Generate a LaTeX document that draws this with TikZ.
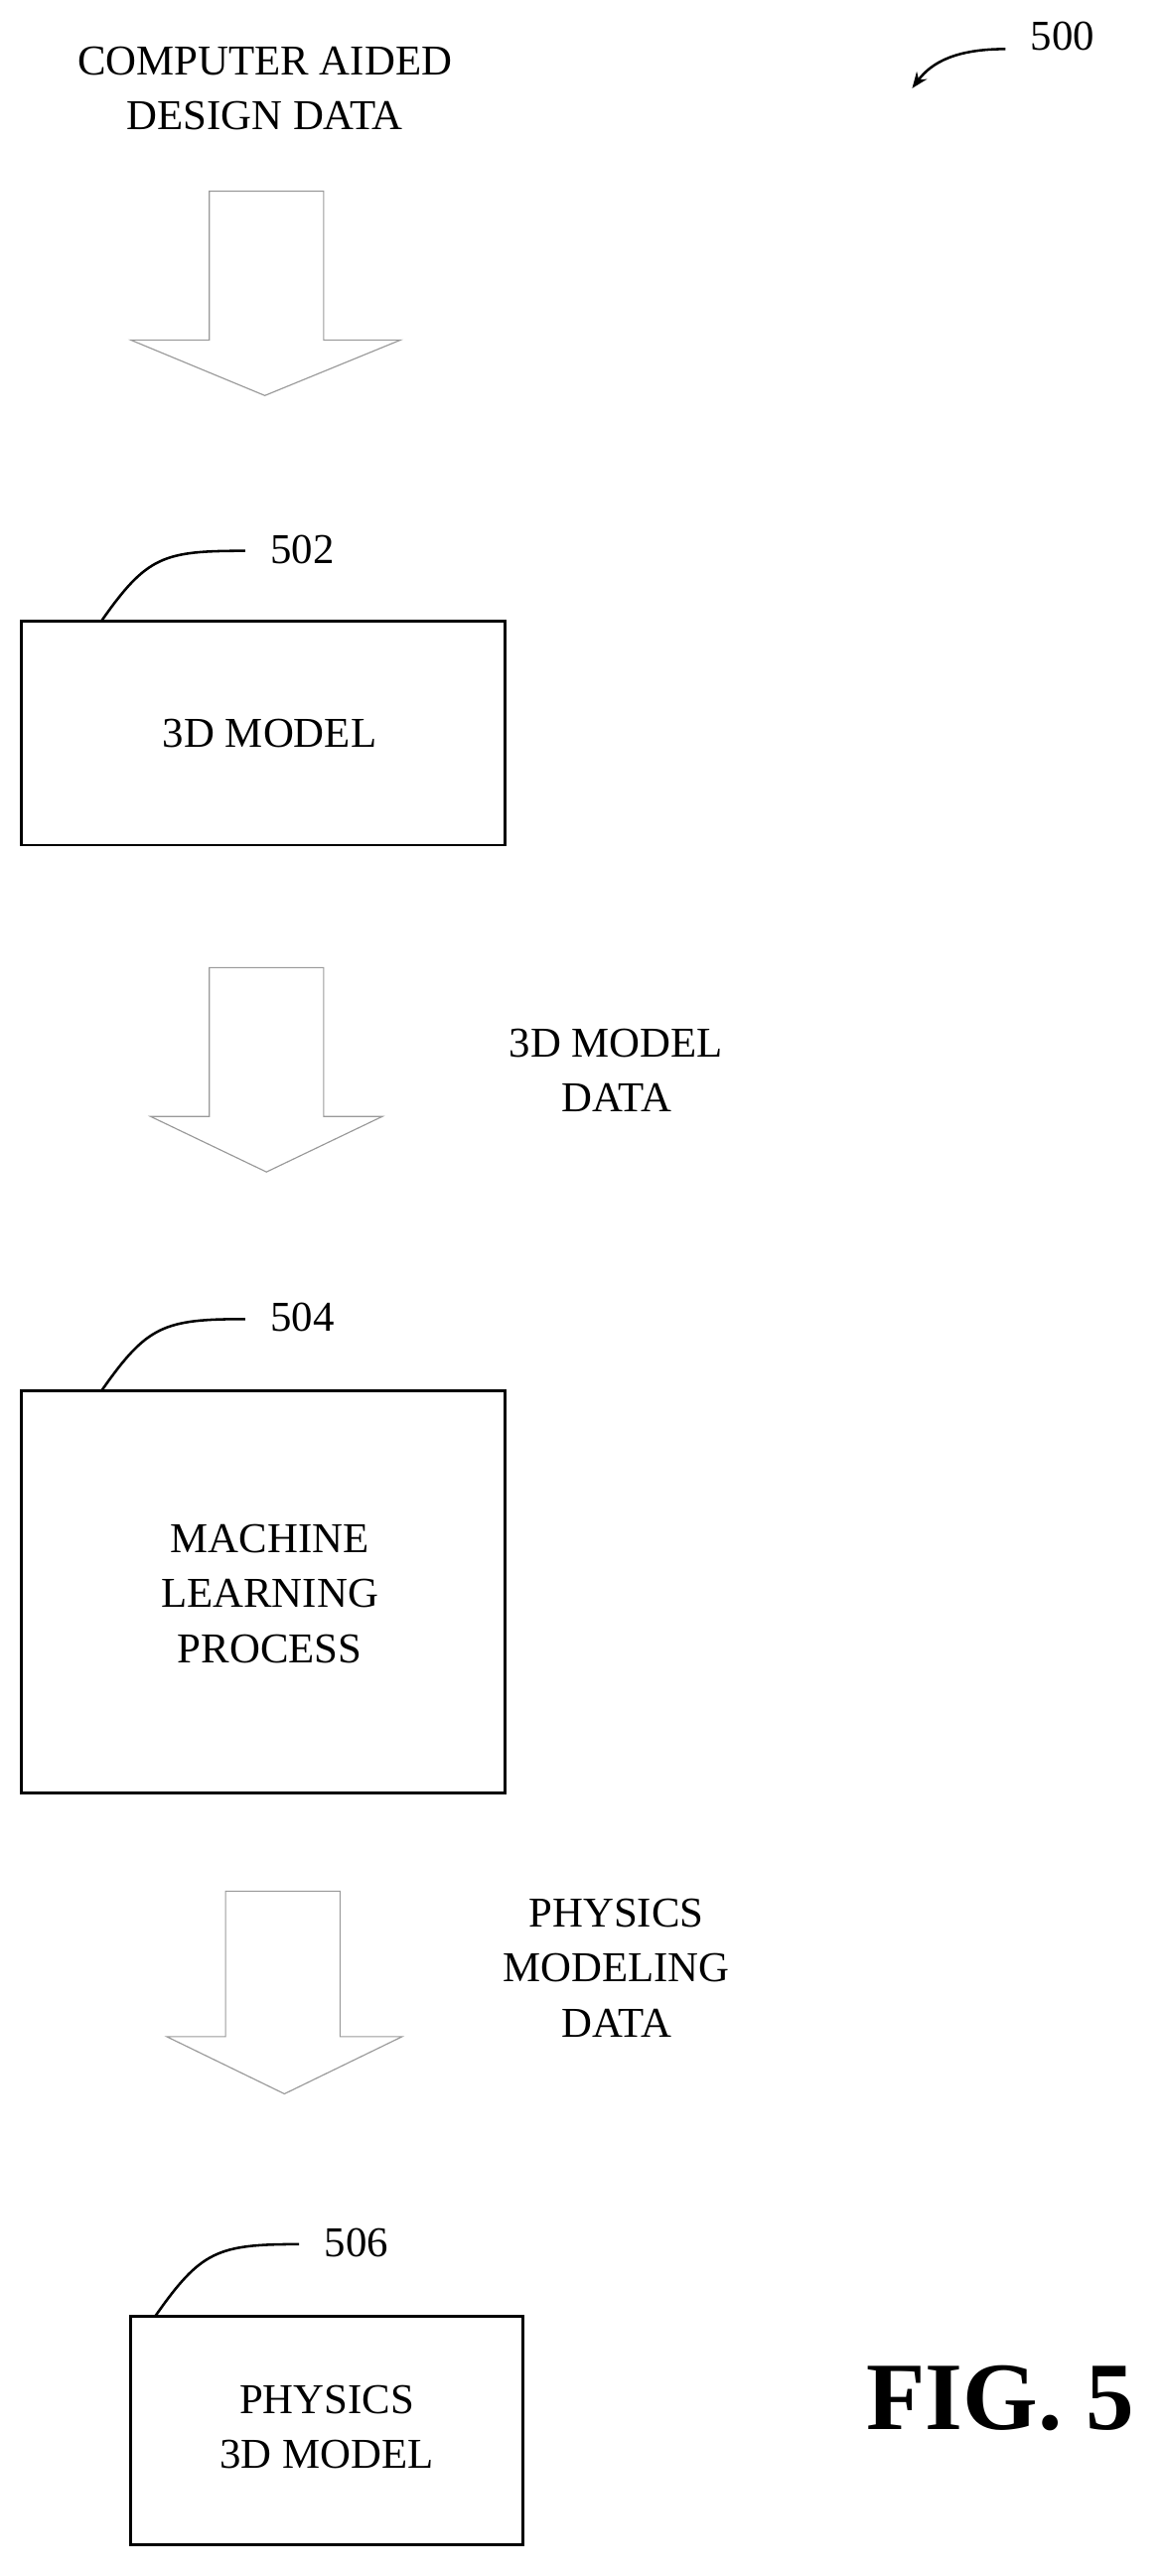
\documentclass[tikz,border=0pt]{standalone}
\usepackage{fontspec}
\setmainfont{Liberation Serif}
\usetikzlibrary{arrows.meta}
\begin{document}
\begin{tikzpicture}[x=0.05cm,y=-0.05cm,
  txt/.style={font=\fontsize{37}{44}\selectfont,align=center,inner sep=0},
  box/.style={draw=black,line width=2.2pt},
  barrow/.style={draw=gray!80,line width=1pt},
  lead/.style={draw=black,line width=2.2pt}]
\useasboundingbox (0,0) rectangle (712,1576);
\node[txt] (cad) at (162,54) {COMPUTER AIDED\\[4pt]DESIGN DATA};
\draw[barrow] (128,117) -- (198,117) -- (198,208) -- (245,208) -- (162,242) -- (80,208) -- (128,208) -- cycle;
\node[txt] (l500) at (650,22) {500};
\coordinate (a500) at (558,54);
\draw[lead,-{Stealth[length=14pt,width=11pt]}] (615,30) .. controls (585,30) and (570,38) .. (a500);
% 502
\draw[box] (13,380) rectangle (309,517);
\node[txt] (t502) at (165,449) {3D MODEL};
\node[txt] (l502) at (185,336) {502};
\draw[lead] (62,380) .. controls (90,340) and (100,337) .. (150,337);
\draw[barrow] (128,592) -- (198,592) -- (198,683) -- (234,683) -- (163,717) -- (92,683) -- (128,683) -- cycle;
\node[txt] (d1) at (377,655) {3D MODEL\\[4pt]DATA};
% 504
\draw[box] (13,851) rectangle (309,1097);
\node[txt] (t504) at (165,975) {MACHINE\\[4pt]LEARNING\\[4pt]PROCESS};
\node[txt] (l504) at (185,806) {504};
\draw[lead] (62,851) .. controls (90,811) and (100,807) .. (150,807);
\draw[barrow] (138,1157) -- (208,1157) -- (208,1246) -- (246,1246) -- (174,1281) -- (102,1246) -- (138,1246) -- cycle;
\node[txt] (d2) at (377,1204) {PHYSICS\\[4pt]MODELING\\[4pt]DATA};
% 506
\draw[box] (80,1417) rectangle (320,1557);
\node[txt] (t506) at (200,1485) {PHYSICS\\[4pt]3D MODEL};
\node[txt] (l506) at (218,1372) {506};
\draw[lead] (95,1417) .. controls (123,1377) and (133,1373) .. (183,1373);
\node[inner sep=0,font=\fontsize{84}{90}\selectfont\bfseries] (fig) at (612,1467) {FIG. 5};
\end{tikzpicture}
\end{document}
